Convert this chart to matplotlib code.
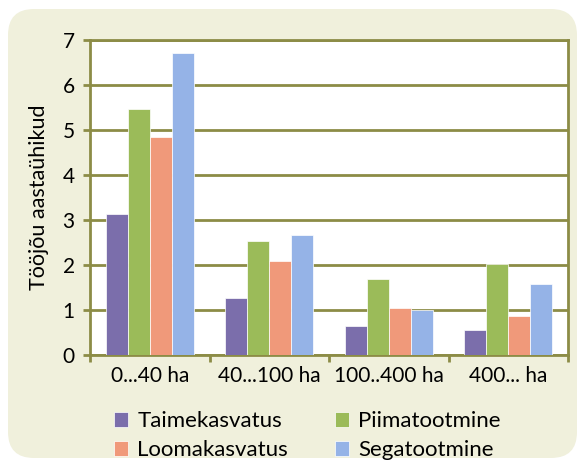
import numpy as np
import matplotlib
matplotlib.use("Agg")
import matplotlib.pyplot as plt
from matplotlib.patches import FancyBboxPatch

kategooriad = ["0...40 ha", "40...100 ha", "100..400 ha", "400... ha"]
taimekasvatus = [3.13, 1.26, 0.64, 0.55]
piimatootmine = [5.47, 2.54, 1.70, 2.02]
loomakasvatus = [4.84, 2.10, 1.04, 0.86]
segatootmine = [6.71, 2.67, 0.99, 1.57]

seeriad = ["Taimekasvatus", "Piimatootmine", "Loomakasvatus", "Segatootmine"]
vaartused = [taimekasvatus, piimatootmine, loomakasvatus, segatootmine]
varvid = ["#7B6EAB", "#9BBB59", "#F0997A", "#95B3E7"]

plt.rcParams['font.family'] = ['Lato', 'DejaVu Sans']
olive = "#8C8C46"

fig = plt.figure(figsize=(5.77, 4.61), dpi=100)
W, H = 577, 461
taust = FancyBboxPatch((8 / W, 3 / H), 569 / W, 449 / H,
                       boxstyle="round,pad=0,rounding_size=0.045",
                       transform=fig.transFigure, facecolor="#F0F0DC",
                       edgecolor="none", zorder=-5, mutation_aspect=W / H)
fig.patches.append(taust)

ax = fig.add_axes([90 / W, 1 - 355 / H, 478 / W, 315 / H])
ax.set_zorder(2)
ax.set_facecolor("white")

x = np.arange(len(kategooriad))
laius = 0.184
handles = {}
for i, (nimi, v, c) in enumerate(zip(seeriad, vaartused, varvid)):
    b = ax.bar(x + (i - 1.5) * laius, v, width=laius, color=c,
               edgecolor="white", linewidth=0.5, zorder=3)
    handles[nimi] = b

ax.set_xlim(-0.5, 3.5)
ax.set_ylim(0, 7)
ax.set_yticks(range(8))
ax.set_xticks(np.arange(-0.5, 3.6, 1))
ax.set_xticklabels([])
ax.set_xticks(x, minor=True)
ax.set_xticklabels(kategooriad, minor=True, fontsize=15)
ax.tick_params(axis="x", which="minor", length=0, pad=8)
ax.tick_params(axis="x", which="major", length=5, width=2, color=olive)
ax.tick_params(axis="y", length=5, width=2, color=olive, labelsize=15, pad=6)
ax.grid(axis="y", color=olive, linewidth=2, zorder=1)
for s in ax.spines.values():
    s.set_color(olive)
    s.set_linewidth(2)

ax.set_ylabel("Tööjõu aastaühikud", fontsize=15.5, labelpad=10)

jarjekord = ["Taimekasvatus", "Loomakasvatus", "Piimatootmine", "Segatootmine"]
fig.legend([handles[n] for n in jarjekord], jarjekord, ncol=2,
           loc="upper left", bbox_to_anchor=(114 / W, 1 - 411 / H),
           frameon=False, fontsize=16, handlelength=0.65, handleheight=0.65,
           handletextpad=0.4, columnspacing=2.1, labelspacing=0.4,
           borderpad=0, borderaxespad=0)

fig.savefig("out.png", dpi=100, facecolor="white")
